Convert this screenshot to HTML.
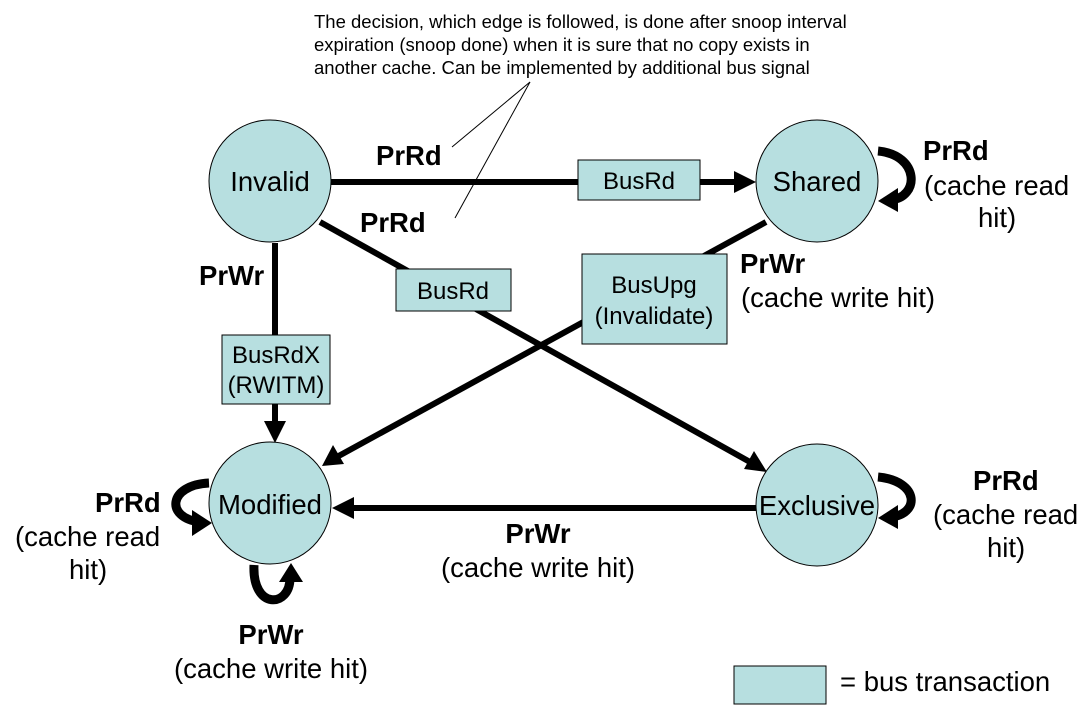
<!DOCTYPE html>
<html><head><style>body{margin:0;background:#fff}svg{display:block}text{font-family:"Liberation Sans",sans-serif}</style></head><body>
<svg width="1086" height="712" viewBox="0 0 1086 712" xmlns="http://www.w3.org/2000/svg">
<g stroke="#000" stroke-width="6" fill="none">
<line x1="331" y1="182" x2="738" y2="182"/>
<line x1="320" y1="222" x2="750" y2="462"/>
<line x1="275" y1="243" x2="275" y2="425"/>
<line x1="766" y1="222" x2="335" y2="458"/>
<line x1="757" y1="508" x2="350" y2="508"/>
</g>
<g fill="#000">
<polygon points="756,182 734,171 734,193"/>
<polygon points="767,472 744,469 754,451"/>
<polygon points="275,443 264,421 286,421"/>
<polygon points="322,466 333,445 344,464"/>
<polygon points="332,508 354,497 354,519"/>
</g>
<g stroke="#000" stroke-width="1">
<line x1="530" y1="82" x2="452" y2="147"/>
<line x1="530" y1="82" x2="455" y2="218"/>
</g>
<g fill="#b7dfe0" stroke="#000" stroke-width="1">
<circle cx="270" cy="181" r="61"/>
<circle cx="817" cy="181" r="61"/>
<circle cx="270" cy="503" r="61"/>
<circle cx="817" cy="505" r="61"/>
<rect x="578" y="160" width="122" height="40"/>
<rect x="396" y="269" width="115" height="42"/>
<rect x="222" y="335" width="108" height="69"/>
<rect x="582" y="254" width="145" height="90"/>
<rect x="734" y="666" width="92" height="38"/>
</g>
<g stroke="#000" stroke-width="9" fill="none">
<path d="M878,151 C920,155 920,198 890,200"/>
<path d="M878,477 C920,481 920,515 890,517"/>
<path d="M209,483 C168,485 165,518 200,522"/>
<path d="M254,565 C252,610 290,608 290,578"/>
</g>
<g fill="#000">
<polygon points="878,201 898,188 898,212"/>
<polygon points="878,518 898,505 898,529"/>
<polygon points="212,523 192,510 192,536"/>
<polygon points="291,563 279,582 303,582"/>
</g>
<g font-size="27.5" text-anchor="middle">
<text x="270" y="191">Invalid</text>
<text x="817" y="191">Shared</text>
<text x="270" y="514">Modified</text>
<text x="817" y="515">Exclusive</text>
</g>
<g font-size="24" text-anchor="middle">
<text x="639" y="189">BusRd</text>
<text x="453" y="299">BusRd</text>
<text x="276" y="363">BusRdX</text>
<text x="276" y="393">(RWITM)</text>
<text x="654" y="293">BusUpg</text>
<text x="654" y="324">(Invalidate)</text>
</g>
<g font-size="27.5">
<text x="376" y="165" font-weight="bold">PrRd</text>
<text x="360" y="232" font-weight="bold">PrRd</text>
<text x="199" y="285" font-weight="bold">PrWr</text>
<text x="923" y="160" font-weight="bold">PrRd</text>
<text x="924" y="195">(cache read</text>
<text x="978" y="227">hit)</text>
<text x="740" y="273" font-weight="bold">PrWr</text>
<text x="741" y="307">(cache write hit)</text>
<text x="95" y="512" font-weight="bold">PrRd</text>
<text x="15" y="546">(cache read</text>
<text x="69" y="579">hit)</text>
<text x="973" y="490" font-weight="bold">PrRd</text>
<text x="933" y="524">(cache read</text>
<text x="987" y="557">hit)</text>
<text x="538" y="543" font-weight="bold" text-anchor="middle">PrWr</text>
<text x="538" y="577" text-anchor="middle">(cache write hit)</text>
<text x="271" y="644" font-weight="bold" text-anchor="middle">PrWr</text>
<text x="271" y="678" text-anchor="middle">(cache write hit)</text>
<text x="840" y="691">= bus transaction</text>
</g>
<g font-size="18.5">
<text x="314" y="28">The decision, which edge is followed, is done after snoop interval</text>
<text x="314" y="51">expiration (snoop done) when it is sure that no copy exists in</text>
<text x="314" y="74">another cache. Can be implemented by additional bus signal</text>
</g>
</svg>
</body></html>
